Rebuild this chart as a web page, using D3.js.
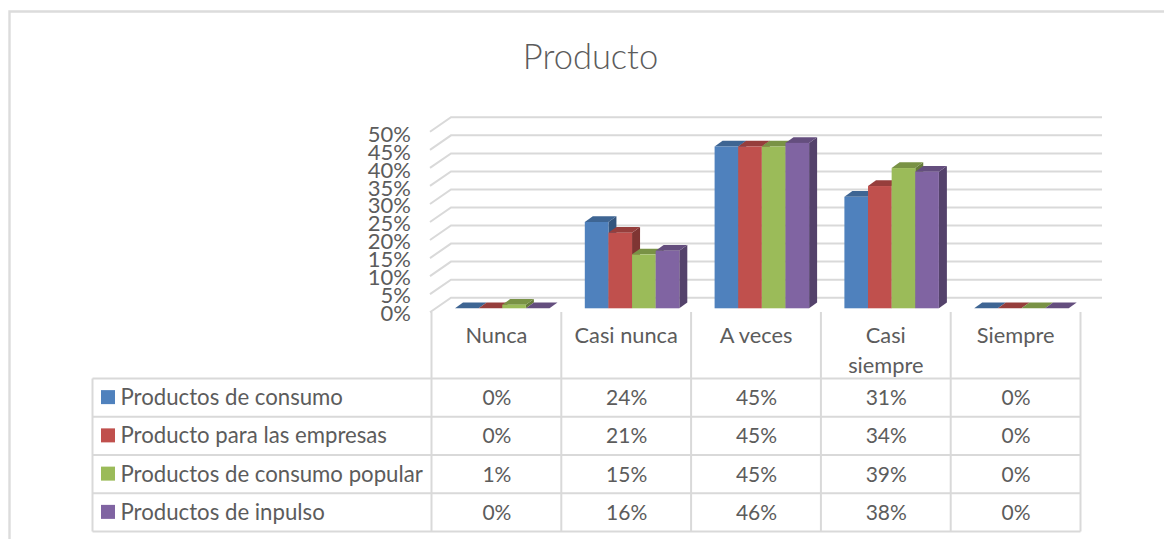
<!DOCTYPE html>
<html>
<head>
<meta charset="utf-8">
<script src="https://cdn.jsdelivr.net/npm/d3@7"></script>
<style>
  html, body { margin: 0; padding: 0; background: #fff; }
  svg { display: block; }
  text { font-family: Lato, "Open Sans", sans-serif; fill: #5c5c5c; }
</style>
</head>
<body>
<div id="chart"></div>
<script>
const categories = ['Nunca', 'Casi nunca', 'A veces', 'Casi siempre', 'Siempre'];
const seriesNames = ['Productos de consumo', 'Producto para las empresas', 'Productos de consumo popular', 'Productos de inpulso'];
const consumo = [0, 24, 45, 31, 0];
const empresas = [0, 21, 45, 34, 0];
const popular = [1, 15, 45, 39, 0];
const inpulso = [0, 16, 46, 38, 0];
const colors = ['#4f81bd', '#c0504d', '#9bbb59', '#8064a2'];
const yTicks = [0, 5, 10, 15, 20, 25, 30, 35, 40, 45, 50];

const allSeries = [consumo, empresas, popular, inpulso];

const width = 1164;
const height = 539;

const svg = d3.select('#chart').append('svg')
    .attr('width', width)
    .attr('height', height);

// Outer frame of the chart, only top and left show
svg.append('path')
    .attr('d', `M${width},11.5H9.5V${height}`)
    .attr('fill', 'none')
    .attr('stroke', '#dcdcdc')
    .attr('stroke-width', 2.4);

svg.append('text')
    .attr('x', 590.5)
    .attr('y', 69)
    .attr('text-anchor', 'middle')
    .style('font-size', '34.5px')
    .style('font-weight', 300)
    .text('Producto');

// Scales
const yBar = d3.scaleLinear().domain([0, 50]).range([308.3, 128.5]);
const yBack = d3.scaleLinear().domain([0, 50]).range([297.7, 117.3]);
const yFront = d3.scaleLinear().domain([0, 50]).range([313, 134.5]);
const xCat = d3.scaleBand().domain(categories).range([431.5, 1080.5]);
const xBar = d3.scaleBand().domain(seriesNames).range([23.5, 118]);
const rowY = d3.scaleBand().domain(seriesNames).range([378.5, 531.5]);

// Gridlines on the back wall with their slanted side wall part
const gridDx = 21;
svg.append('g').selectAll('path')
    .data(yTicks)
    .join('path')
    .attr('d', d => `M430,${yBack(d) + 14.5}L${430 + gridDx},${yBack(d)}H1102`)
    .attr('fill', 'none')
    .attr('stroke', '#d9d9d9')
    .attr('stroke-width', 2);

// Y axis labels
const yAxis = d3.axisLeft(yFront)
    .tickValues(yTicks)
    .tickFormat(d => d + '%')
    .tickSize(0)
    .tickPadding(0);
const gY = svg.append('g')
    .attr('transform', 'translate(411,0)')
    .call(yAxis);
gY.select('.domain').remove();
gY.selectAll('text')
    .style('font-size', '22px')
    .style('font-family', 'Lato, sans-serif')
    .style('fill', '#5c5c5c');

// 3D bars
const depthX = 8;
const depthY = 5.7;
function shade(c, k) {
    const r = d3.rgb(c);
    return d3.rgb(r.r * k, r.g * k, r.b * k).formatHex();
}
const bw = xBar.bandwidth();
const gBars = svg.append('g');
categories.forEach((cat, i) => {
    allSeries.forEach((vals, s) => {
        const x0 = xCat(cat) + xBar(seriesNames[s]);
        const top = yBar(vals[i]);
        const base = yBar(0);
        const g = gBars.append('g');
        g.append('path')
            .attr('d', `M${x0 + bw},${top}l${depthX},${-depthY}V${base - depthY}l${-depthX},${depthY}Z`)
            .attr('fill', shade(colors[s], 0.66));
        g.append('path')
            .attr('d', `M${x0},${top}l${depthX},${-depthY}h${bw}l${-depthX},${depthY}Z`)
            .attr('fill', shade(colors[s], 0.78));
        g.append('rect')
            .attr('x', x0)
            .attr('y', top)
            .attr('width', bw)
            .attr('height', base - top)
            .attr('fill', colors[s]);
    });
});

// Data table
const gTable = svg.append('g')
    .attr('fill', 'none')
    .attr('stroke', '#d9d9d9')
    .attr('stroke-width', 2);
const colEdges = categories.map(c => xCat(c)).concat(xCat.range()[1]);
colEdges.forEach(x => {
    gTable.append('line')
        .attr('x1', x).attr('x2', x)
        .attr('y1', 312).attr('y2', rowY.range()[1]);
});
const rowEdges = seriesNames.map(n => rowY(n)).concat(rowY.range()[1]);
rowEdges.forEach(y => {
    gTable.append('line')
        .attr('x1', 92.5).attr('x2', xCat.range()[1])
        .attr('y1', y).attr('y2', y);
});
gTable.append('line')
    .attr('x1', 92.5).attr('x2', 92.5)
    .attr('y1', rowY.range()[0]).attr('y2', rowY.range()[1]);

// Category labels, long ones wrap
const catLabels = categories.map(c => c === 'Casi siempre' ? ['Casi', 'siempre'] : [c]);
categories.forEach((cat, i) => {
    catLabels[i].forEach((line, k) => {
        svg.append('text')
            .attr('x', xCat(cat) + xCat.bandwidth() / 2)
            .attr('y', 343 + k * 30)
            .attr('text-anchor', 'middle')
            .style('font-size', '21.8px')
            .text(line);
    });
});

// Legend keys, series names and values
seriesNames.forEach((name, s) => {
    const cy = rowY(name) + rowY.bandwidth() / 2;
    svg.append('rect')
        .attr('x', 101)
        .attr('y', cy - 7.5)
        .attr('width', 14)
        .attr('height', 14)
        .attr('fill', colors[s]);
    svg.append('text')
        .attr('x', 120.5)
        .attr('y', cy + 7.5)
        .style('font-size', '22.2px')
        .text(name);
    categories.forEach((cat, i) => {
        svg.append('text')
            .attr('x', xCat(cat) + xCat.bandwidth() / 2 + 0.5)
            .attr('y', cy + 7.5)
            .attr('text-anchor', 'middle')
            .style('font-size', '21px')
            .text(allSeries[s][i] + '%');
    });
});
</script>
</body>
</html>
